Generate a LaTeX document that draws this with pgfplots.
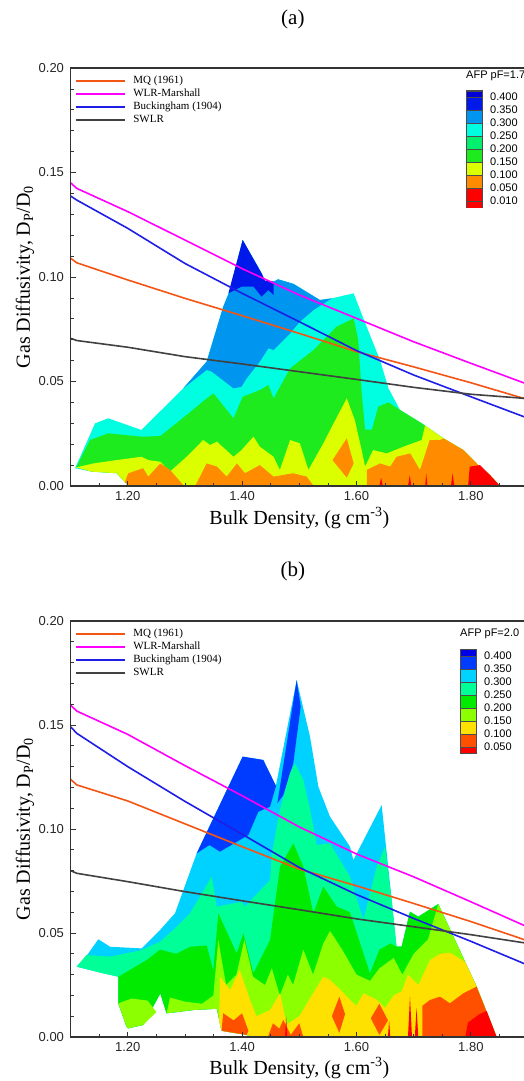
\documentclass[border=0pt]{standalone}
\usepackage{fontspec}
\setmainfont{Liberation Serif}
\newfontfamily\arial{Liberation Sans}
\usepackage{pgfplots}
\pgfplotsset{compat=1.18}

% panel (a) levels
\definecolor{aL9}{RGB}{0,0,215}
\definecolor{aL8}{RGB}{0,25,235}
\definecolor{aL7}{RGB}{0,150,240}
\definecolor{aL6}{RGB}{0,255,225}
\definecolor{aL5}{RGB}{0,240,110}
\definecolor{aL4}{RGB}{30,235,30}
\definecolor{aL3}{RGB}{220,255,0}
\definecolor{aL2}{RGB}{255,140,0}
\definecolor{aL1}{RGB}{255,0,0}
% panel (b) levels
\definecolor{bL9}{RGB}{0,0,230}
\definecolor{bL8}{RGB}{0,60,255}
\definecolor{bL7}{RGB}{0,210,255}
\definecolor{bL6}{RGB}{0,255,150}
\definecolor{bL5}{RGB}{0,235,0}
\definecolor{bL4}{RGB}{140,255,0}
\definecolor{bL3}{RGB}{255,225,0}
\definecolor{bL2}{RGB}{255,80,0}
\definecolor{bL1}{RGB}{255,0,0}
% lines
\definecolor{cMQ}{RGB}{245,85,20}
\definecolor{cWLR}{RGB}{255,0,255}
\definecolor{cBuck}{RGB}{30,30,230}
\definecolor{cSWLR}{RGB}{65,65,65}

\pgfplotsset{
  panel/.style={
    scale only axis, width=457.6pt,
    xmin=1.1, xmax=1.9, ymin=0, ymax=0.2,
    xtick={1.2,1.4,1.6,1.8}, xticklabels={1.20,1.40,1.60,1.80},
    minor xtick={1.15,1.25,1.3,1.35,1.45,1.5,1.55,1.65,1.7,1.75,1.85},
    ytick={0,0.05,0.1,0.15,0.2}, yticklabels={0.00,0.05,0.10,0.15,0.20},
    minor ytick={0.01,0.02,0.03,0.04,0.06,0.07,0.08,0.09,0.11,0.12,0.13,0.14,0.16,0.17,0.18,0.19},
    tick align=inside, xtick pos=left, ytick pos=left,
    major tick length=5pt, minor tick length=3pt,
    tick style={black!80, line width=0.8pt},
    axis line style={black!80, line width=1.2pt},
    ticklabel style={font=\arial\fontsize{13}{15}\selectfont, text=black!85},
    yticklabel style={xshift=-3pt},
    xticklabel style={yshift=-2pt},
    axis on top,
    xlabel={Bulk Density, (g cm\textsuperscript{-3})},
    ylabel={Gas Diffusivity, D\textsubscript{P}/D\textsubscript{0}},
    label style={font=\fontsize{20}{24}\selectfont},
    ylabel style={at={(axis description cs:-0.0994,0.5)}, anchor=center},
    title style={font=\fontsize{21}{25}\selectfont, anchor=center},
    legend style={at={(axis description cs:0,1)}, anchor=north west,
      xshift=4.5pt, yshift=-6.5pt, draw=none, fill=none, inner sep=0pt,
      font=\fontsize{11}{13}\selectfont,
      nodes={inner sep=0pt, text height=9pt, text depth=4pt},
      /tikz/every odd column/.append style={column sep=7.5pt}},
    legend cell align=left,
    legend image code/.code={\draw[##1, line width=1.6pt] (0pt,0pt) -- (49pt,0pt);},
    every axis plot/.append style={line width=1.6pt},
  },
  cbar/.style={
    scale only axis, width=16pt, xmin=0, xmax=1,
    axis line style={black!70, line width=0.6pt},
    xtick=\empty, ytick pos=right, yticklabel pos=right,
    major tick length=0pt,
    yticklabel style={font=\arial\fontsize{11}{13}\selectfont, anchor=west, inner sep=0pt, xshift=8pt},
    title style={at={(axis description cs:0,1)}, anchor=base west, inner sep=0pt,
      yshift=6.5pt, font=\arial\fontsize{11}{13}\selectfont},
    every axis plot/.append style={draw=black!70, line width=0.4pt},
  },
}

\begin{document}
\begin{tikzpicture}

% ---------------- panel (a) ----------------
\begin{axis}[panel, at={(70.5pt,-486pt)}, anchor=south west, height=418pt,
  title={(a)}, title style={at={(axis description cs:0.486,1.1029)}},
  xlabel style={at={(axis description cs:0.5,-0.0766)}, anchor=center},
  legend entries={MQ (1961),WLR-Marshall,Buckingham (1904),SWLR}]
% envelope, 0.25-0.30
\addplot[fill=aL6, draw=none, forget plot] coordinates {
 (1.108,0.0085) (1.143,0.0300) (1.166,0.0324) (1.224,0.0268) (1.297,0.0467) (1.338,0.0595)
 (1.367,0.0858) (1.379,0.0938) (1.401,0.1177) (1.434,0.1018) (1.440,0.0982) (1.455,0.0978)
 (1.463,0.0989) (1.490,0.0967) (1.536,0.0890) (1.557,0.0898) (1.595,0.0922) (1.612,0.0802)
 (1.641,0.0603) (1.656,0.0467) (1.676,0.0364) (1.714,0.0300) (1.752,0.0228) (1.787,0.0172)
 (1.813,0.0100) (1.833,0.0053) (1.851,0) (1.201,0) (1.181,0.0061) (1.137,0.0069)} -- cycle;
% 0.30-0.35
\addplot[fill=aL7, draw=none, forget plot] coordinates {
 (1.297,0.0467) (1.338,0.0595) (1.367,0.0858) (1.379,0.0938) (1.401,0.1177) (1.434,0.1018)
 (1.440,0.0982) (1.455,0.0978) (1.463,0.0989) (1.490,0.0967) (1.536,0.0890) (1.557,0.0898)
 (1.525,0.0842) (1.501,0.0786) (1.484,0.0730) (1.455,0.0651) (1.446,0.0659) (1.431,0.0595)
 (1.408,0.0515) (1.399,0.0475) (1.385,0.0467) (1.347,0.0547) (1.338,0.0555)} -- cycle;
% 0.35-0.40
\addplot[fill=aL8, draw=none, forget plot] coordinates {
 (1.376,0.0922) (1.401,0.1177) (1.434,0.1018) (1.440,0.0982) (1.455,0.0978) (1.455,0.0914)
 (1.446,0.0938) (1.434,0.0906) (1.420,0.0954) (1.399,0.0954)} -- cycle;
% 0.15-0.25
\addplot[fill=aL4, draw=none, forget plot] coordinates {
 (1.110,0.0089) (1.134,0.0220) (1.166,0.0252) (1.224,0.0236) (1.257,0.0239) (1.303,0.0340)
 (1.338,0.0419) (1.350,0.0443) (1.385,0.0324) (1.401,0.0427) (1.431,0.0459) (1.446,0.0483)
 (1.455,0.0419) (1.484,0.0563) (1.525,0.0651) (1.565,0.0762) (1.595,0.0802) (1.603,0.0700)
 (1.609,0.0450) (1.615,0.0270) (1.627,0.0270) (1.638,0.0380) (1.656,0.0400) (1.676,0.0364)
 (1.714,0.0300) (1.752,0.0228) (1.787,0.0172) (1.813,0.0100) (1.833,0.0053) (1.851,0)
 (1.201,0) (1.181,0.0061) (1.137,0.0069)} -- cycle;
% 0.10-0.15
\addplot[fill=aL3, draw=none, forget plot] coordinates {
 (1.110,0.0089) (1.140,0.0108) (1.181,0.0124) (1.224,0.0140) (1.236,0.0124) (1.257,0.0116)
 (1.274,0.0069) (1.303,0.0140) (1.332,0.0220) (1.344,0.0196) (1.356,0.0212) (1.385,0.0140)
 (1.399,0.0172) (1.420,0.0236) (1.431,0.0188) (1.455,0.0140) (1.466,0.0077) (1.484,0.0220)
 (1.501,0.0204) (1.516,0.0077) (1.542,0.0204) (1.560,0.0300) (1.583,0.0419) (1.597,0.0316)
 (1.609,0.0172) (1.615,0.0093) (1.629,0.0172) (1.653,0.0156) (1.682,0.0188) (1.714,0.0220)
 (1.720,0.0289) (1.752,0.0228) (1.787,0.0172) (1.813,0.0100) (1.833,0.0053) (1.851,0)
 (1.201,0) (1.181,0.0061) (1.137,0.0069)} -- cycle;
% 0.05-0.10
\addplot[fill=aL2, draw=none, forget plot] coordinates {
 (1.195,0.0020) (1.201,0.0061) (1.227,0.0085) (1.236,0.0045) (1.257,0.0108) (1.274,0.0077)
 (1.297,0.0005) (1.297,0) (1.201,0)} -- cycle;
\addplot[fill=aL2, draw=none, forget plot] coordinates {
 (1.318,0) (1.338,0.0108) (1.356,0.0093) (1.373,0.0045) (1.391,0.0108) (1.405,0.0061)
 (1.431,0.0100) (1.455,0.0045) (1.489,0.0061) (1.513,0.0045) (1.525,0)} -- cycle;
\addplot[fill=aL2, draw=none, forget plot] coordinates {
 (1.558,0.0124) (1.583,0.0228) (1.595,0.0108) (1.583,0.0040)} -- cycle;
\addplot[fill=aL2, draw=none, forget plot] coordinates {
 (1.618,0) (1.618,0.0077) (1.641,0.0108) (1.659,0.0093) (1.670,0.0140) (1.694,0.0156)
 (1.711,0.0077) (1.728,0.0220) (1.746,0.0220) (1.752,0.0228) (1.787,0.0172) (1.813,0.0100)
 (1.833,0.0053) (1.851,0)} -- cycle;
% 0.01-0.05
\addplot[fill=aL1, draw=none, forget plot] coordinates {
 (1.795,0) (1.798,0.0093) (1.816,0.0100) (1.833,0.0053) (1.851,0)} -- cycle;
\addplot[fill=aL1, draw=none, forget plot] coordinates {(1.640,0) (1.643,0.004) (1.646,0)} -- cycle;
\addplot[fill=aL1, draw=none, forget plot] coordinates {(1.690,0) (1.693,0.005) (1.696,0)} -- cycle;
\addplot[fill=aL1, draw=none, forget plot] coordinates {(1.720,0) (1.722,0.006) (1.724,0)} -- cycle;
\addplot[fill=aL1, draw=none, forget plot] coordinates {(1.765,0) (1.768,0.006) (1.771,0)} -- cycle;
% model lines
\addplot[cMQ] coordinates {(1.10,0.1090) (1.111,0.1068) (1.2,0.0986) (1.3,0.0898) (1.4,0.0815)
 (1.5,0.0730) (1.6,0.0643) (1.7,0.0570) (1.8,0.0494) (1.9,0.0413)};
\addplot[cWLR] coordinates {(1.10,0.1451) (1.111,0.1424) (1.2,0.1313) (1.3,0.1177) (1.4,0.1040)
 (1.5,0.0914) (1.6,0.0802) (1.7,0.0690) (1.8,0.0587) (1.9,0.0486)};
\addplot[cBuck] coordinates {(1.10,0.1388) (1.111,0.1368) (1.2,0.1233) (1.3,0.1065) (1.4,0.0922)
 (1.5,0.0786) (1.6,0.0648) (1.7,0.0531) (1.8,0.0427) (1.9,0.0324)};
\addplot[cSWLR] coordinates {(1.10,0.0707) (1.111,0.0696) (1.2,0.0664) (1.3,0.0619) (1.4,0.0584)
 (1.5,0.0547) (1.6,0.0510) (1.7,0.0472) (1.8,0.0439) (1.9,0.0418)};
\end{axis}

% colour key (a)
\begin{axis}[cbar, at={(466pt,-207.7pt)}, anchor=south west, height=117pt,
  ymin=-0.5, ymax=8.5, ytick={0,...,8},
  yticklabels={0.010,0.050,0.100,0.150,0.200,0.250,0.300,0.350,0.400},
  title={AFP pF=1.7}]
\addplot[fill=aL1] coordinates {(0,-0.5) (1,-0.5) (1,0) (0,0)} -- cycle;
\addplot[fill=aL1] coordinates {(0,0) (1,0) (1,1) (0,1)} -- cycle;
\addplot[fill=aL2] coordinates {(0,1) (1,1) (1,2) (0,2)} -- cycle;
\addplot[fill=aL3] coordinates {(0,2) (1,2) (1,3) (0,3)} -- cycle;
\addplot[fill=aL4] coordinates {(0,3) (1,3) (1,4) (0,4)} -- cycle;
\addplot[fill=aL5] coordinates {(0,4) (1,4) (1,5) (0,5)} -- cycle;
\addplot[fill=aL6] coordinates {(0,5) (1,5) (1,6) (0,6)} -- cycle;
\addplot[fill=aL7] coordinates {(0,6) (1,6) (1,7) (0,7)} -- cycle;
\addplot[fill=aL8] coordinates {(0,7) (1,7) (1,8) (0,8)} -- cycle;
\addplot[fill=aL9] coordinates {(0,8) (1,8) (1,8.5) (0,8.5)} -- cycle;
\end{axis}

% ---------------- panel (b) ----------------
\begin{axis}[panel, at={(70.5pt,-1037pt)}, anchor=south west, height=416pt,
  title={(b)}, title style={at={(axis description cs:0.486,1.1058)}},
  xlabel style={at={(axis description cs:0.5,-0.0745)}, anchor=center},
  legend entries={MQ (1961),WLR-Marshall,Buckingham (1904),SWLR}]
% envelope, 0.30-0.35
\addplot[fill=bL7, draw=none, forget plot] coordinates {
 (1.1108,0.0338) (1.1312,0.0402) (1.1487,0.0470) (1.1691,0.0434) (1.2244,0.0426) (1.2565,0.0514)
 (1.2827,0.0595) (1.3206,0.0883) (1.401,0.1348) (1.437,0.1332) (1.459,0.1207) (1.4954,0.1716)
 (1.5187,0.1444) (1.5333,0.1203) (1.5537,0.1059) (1.5886,0.0915) (1.5945,0.0851) (1.644,0.1115)
 (1.6615,0.0659) (1.670,0.0434) (1.679,0.0434) (1.6935,0.0602) (1.708,0.0578) (1.743,0.0639)
 (1.7897,0.0362) (1.810,0.0242) (1.845,0) (1.42,0) (1.408,0.001) (1.364,0.0030) (1.356,0.0136)
 (1.315,0.0130) (1.268,0.0114) (1.257,0.0210) (1.227,0.0058) (1.201,0.0042) (1.198,0.005)
 (1.1836,0.0162) (1.1836,0.0290) (1.1574,0.0306)} -- cycle;
% 0.35-0.40
\addplot[fill=bL8, draw=none, forget plot] coordinates {
 (1.3206,0.0883) (1.401,0.1348) (1.437,0.1332) (1.4593,0.1207) (1.4488,0.1107) (1.4283,0.1083)
 (1.4109,0.0971) (1.3613,0.0891) (1.343,0.0923)} -- cycle;
\addplot[fill=bL8, draw=none, forget plot] coordinates {
 (1.4616,0.1123) (1.4954,0.1716) (1.5024,0.1588) (1.4895,0.1316) (1.472,0.1163)} -- cycle;
% 0.25-0.30
\addplot[fill=bL6, draw=none, forget plot] coordinates {
 (1.1108,0.0338) (1.128,0.0394) (1.169,0.0386) (1.2245,0.0418) (1.2565,0.0458) (1.2857,0.0530)
 (1.309,0.0595) (1.347,0.0771) (1.3556,0.0627) (1.399,0.0650) (1.405,0.0627) (1.4488,0.0755)
 (1.4517,0.0875) (1.466,0.1091) (1.4837,0.1268) (1.4925,0.1316) (1.507,0.1236) (1.519,0.1091)
 (1.5304,0.0923) (1.5537,0.0931) (1.5886,0.0771) (1.612,0.0563) (1.6353,0.0819) (1.6498,0.0915)
 (1.6615,0.0659) (1.670,0.0434) (1.679,0.0434) (1.6935,0.0602) (1.708,0.0578) (1.743,0.0639)
 (1.7897,0.0362) (1.810,0.0242) (1.845,0) (1.42,0) (1.408,0.001) (1.364,0.0030) (1.356,0.0136)
 (1.315,0.0130) (1.268,0.0114) (1.257,0.0210) (1.227,0.0058) (1.201,0.0042) (1.198,0.005)
 (1.1836,0.0162) (1.1836,0.0290) (1.1574,0.0306)} -- cycle;
% 0.20-0.25
\addplot[fill=bL5, draw=none, forget plot] coordinates {
 (1.1836,0.0290) (1.2332,0.0370) (1.2565,0.0420) (1.285,0.0400) (1.309,0.0434) (1.3381,0.0440)
 (1.3497,0.0320) (1.3584,0.0595) (1.3905,0.0402) (1.4022,0.0499) (1.4196,0.0306) (1.4488,0.0466)
 (1.4663,0.0819) (1.4896,0.0931) (1.5071,0.0819) (1.5245,0.0595) (1.542,0.0723) (1.5653,0.0627)
 (1.5886,0.0600) (1.6236,0.0306) (1.640,0.0420) (1.660,0.0450) (1.670,0.0434) (1.679,0.0434)
 (1.6935,0.0602) (1.708,0.0578) (1.743,0.0639) (1.7897,0.0362) (1.810,0.0242) (1.845,0)
 (1.42,0) (1.408,0.001) (1.364,0.0030) (1.356,0.0136) (1.315,0.0130) (1.268,0.0114)
 (1.257,0.0210) (1.227,0.0058) (1.201,0.0042) (1.198,0.005) (1.1836,0.0162)} -- cycle;
% 0.15-0.20
\addplot[fill=bL4, draw=none, forget plot] coordinates {
 (1.1836,0.0162) (1.207,0.0185) (1.235,0.0175) (1.250,0.0120) (1.227,0.0058) (1.201,0.0042)
 (1.198,0.005)} -- cycle;
\addplot[fill=bL4, draw=none, forget plot] coordinates {
 (1.268,0.0114) (1.274,0.0190) (1.300,0.0170) (1.330,0.0160) (1.3497,0.0200) (1.3584,0.0466)
 (1.372,0.0250) (1.390,0.0300) (1.404,0.0466) (1.419,0.0290) (1.440,0.0250) (1.452,0.0330)
 (1.466,0.0200) (1.480,0.0300) (1.489,0.0250) (1.507,0.0420) (1.524,0.0300) (1.542,0.0450)
 (1.5537,0.0510) (1.575,0.0420) (1.600,0.0300) (1.6236,0.0270) (1.640,0.0330) (1.665,0.0380)
 (1.680,0.0300) (1.700,0.0400) (1.725,0.0470) (1.743,0.0639) (1.7897,0.0362) (1.810,0.0242)
 (1.845,0) (1.42,0) (1.408,0.001) (1.364,0.0030) (1.356,0.0136) (1.315,0.0130)} -- cycle;
% 0.10-0.15
\addplot[fill=bL3, draw=none, forget plot] coordinates {
 (1.360,0.008) (1.3613,0.0290) (1.379,0.0226) (1.396,0.0322) (1.4138,0.0178) (1.425,0.0100)
 (1.4488,0.0130) (1.4663,0.0210) (1.478,0.0060) (1.500,0.0100) (1.524,0.0210) (1.542,0.0290)
 (1.5537,0.0274) (1.571,0.0230) (1.589,0.0178) (1.600,0.0150) (1.612,0.0210) (1.635,0.0180)
 (1.650,0.0140) (1.665,0.0200) (1.679,0.0220) (1.690,0.0300) (1.708,0.0250) (1.7285,0.0370)
 (1.746,0.0400) (1.7634,0.0405) (1.7897,0.0362) (1.810,0.0242) (1.845,0) (1.42,0)
 (1.408,0.001) (1.364,0.0030)} -- cycle;
% 0.05-0.10
\addplot[fill=bL2, draw=none, forget plot] coordinates {
 (1.364,0.003) (1.367,0.0114) (1.385,0.0080) (1.400,0.0114) (1.411,0.0030) (1.408,0.001)} -- cycle;
\addplot[fill=bL2, draw=none, forget plot] coordinates {
 (1.445,0) (1.454,0.0066) (1.465,0.0040) (1.472,0.0082) (1.485,0.0010) (1.500,0.0066) (1.507,0)} -- cycle;
\addplot[fill=bL2, draw=none, forget plot] coordinates {
 (1.557,0.0100) (1.570,0.0194) (1.580,0.0110) (1.570,0.0020)} -- cycle;
\addplot[fill=bL2, draw=none, forget plot] coordinates {
 (1.625,0.0090) (1.640,0.0160) (1.655,0.0080) (1.640,0.0010)} -- cycle;
\addplot[fill=bL2, draw=none, forget plot] coordinates {
 (1.715,0) (1.715,0.0150) (1.7285,0.0178) (1.746,0.0194) (1.7634,0.0162) (1.7867,0.0210)
 (1.810,0.0242) (1.845,0)} -- cycle;
% below 0.05
\addplot[fill=bL1, draw=none, forget plot] coordinates {
 (1.790,0) (1.795,0.0070) (1.815,0.0110) (1.8276,0.0125) (1.845,0)} -- cycle;
\addplot[fill=bL1, draw=none, forget plot] coordinates {(1.690,0) (1.6935,0.0194) (1.697,0)} -- cycle;
\addplot[fill=bL1, draw=none, forget plot] coordinates {(1.702,0) (1.705,0.0140) (1.708,0)} -- cycle;
\addplot[fill=bL1, draw=none, forget plot] coordinates {(1.655,0) (1.657,0.0080) (1.659,0)} -- cycle;
\addplot[fill=bL1, draw=none, forget plot] coordinates {(1.475,0) (1.477,0.0100) (1.479,0)} -- cycle;
% model lines
\addplot[cMQ] coordinates {(1.10,0.1239) (1.111,0.1212) (1.2,0.1135) (1.3,0.1025) (1.4,0.0915)
 (1.5,0.0807) (1.6,0.0727) (1.7,0.0642) (1.8,0.0555) (1.9,0.0462)};
\addplot[cWLR] coordinates {(1.10,0.1596) (1.111,0.1567) (1.2,0.1455) (1.3,0.1305) (1.4,0.1160)
 (1.5,0.1010) (1.6,0.0880) (1.7,0.0770) (1.8,0.0650) (1.9,0.0528)};
\addplot[cBuck] coordinates {(1.10,0.1492) (1.111,0.1460) (1.2,0.1300) (1.3,0.1133) (1.4,0.0975)
 (1.5,0.0815) (1.6,0.0685) (1.7,0.0570) (1.8,0.0460) (1.9,0.0345)};
\addplot[cSWLR] coordinates {(1.10,0.0800) (1.111,0.0787) (1.2,0.0747) (1.3,0.0699) (1.4,0.0655)
 (1.5,0.0612) (1.6,0.0568) (1.7,0.0530) (1.8,0.0492) (1.9,0.0450)};
\end{axis}

% colour key (b)
\begin{axis}[cbar, at={(460pt,-753.3pt)}, anchor=south west, height=104pt,
  ymin=-0.5, ymax=7.5, ytick={0,...,7},
  yticklabels={0.050,0.100,0.150,0.200,0.250,0.300,0.350,0.400},
  title={AFP pF=2.0}]
\addplot[fill=bL1] coordinates {(0,-0.5) (1,-0.5) (1,0) (0,0)} -- cycle;
\addplot[fill=bL2] coordinates {(0,0) (1,0) (1,1) (0,1)} -- cycle;
\addplot[fill=bL3] coordinates {(0,1) (1,1) (1,2) (0,2)} -- cycle;
\addplot[fill=bL4] coordinates {(0,2) (1,2) (1,3) (0,3)} -- cycle;
\addplot[fill=bL5] coordinates {(0,3) (1,3) (1,4) (0,4)} -- cycle;
\addplot[fill=bL6] coordinates {(0,4) (1,4) (1,5) (0,5)} -- cycle;
\addplot[fill=bL7] coordinates {(0,5) (1,5) (1,6) (0,6)} -- cycle;
\addplot[fill=bL8] coordinates {(0,6) (1,6) (1,7) (0,7)} -- cycle;
\addplot[fill=bL9] coordinates {(0,7) (1,7) (1,7.5) (0,7.5)} -- cycle;
\end{axis}

\pgfresetboundingbox
\useasboundingbox (0pt,-1081pt) rectangle (523pt,0pt);
\end{tikzpicture}
\end{document}
